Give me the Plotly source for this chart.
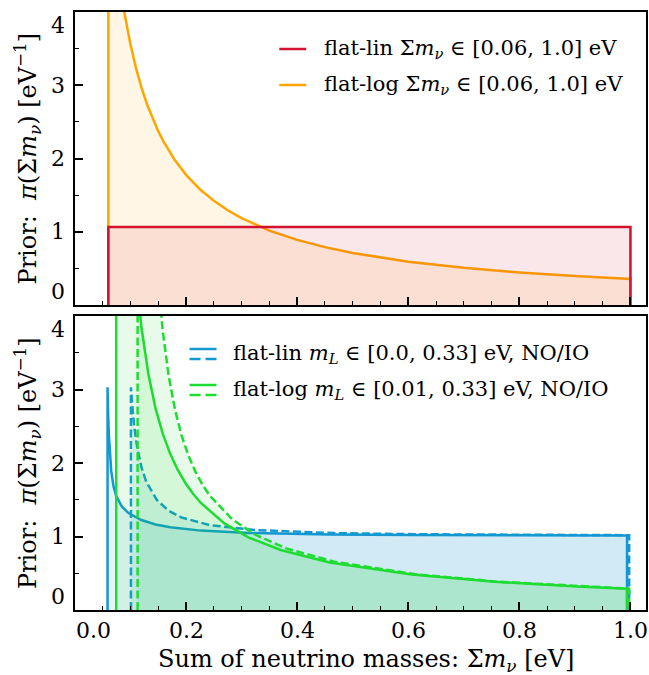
import plotly.graph_objects as go

# ---------------- data ----------------
# Top panel: priors on the sum of neutrino masses
LIN_SUM_X = [0.06, 0.06, 1.0, 1.0]
LIN_SUM_Y = [0.0, 1.064, 1.064, 0.0]

LOG_SUM_X = [0.06, 0.06, 0.07, 0.08, 0.085, 0.09, 0.095, 0.10, 0.11, 0.12, 0.13, 0.14,
             0.15, 0.16, 0.18, 0.20, 0.225, 0.25, 0.275, 0.30, 0.35, 0.40, 0.45, 0.50,
             0.60, 0.70, 0.80, 0.90, 1.00, 1.00]
LOG_SUM_Y = [0.0, 5.924, 5.078, 4.443, 4.182, 3.949, 3.742, 3.554, 3.231, 2.962, 2.734, 2.539,
             2.370, 2.222, 1.975, 1.777, 1.580, 1.422, 1.293, 1.185, 1.016, 0.889, 0.790, 0.711,
             0.592, 0.508, 0.444, 0.395, 0.355, 0.0]

# Bottom panel: priors on the lightest mass, mapped to the sum (NO solid, IO dashed)
LIN_NO_X = [0.0586, 0.0586, 0.0591, 0.0597, 0.0609, 0.0622, 0.0652, 0.0695, 0.0742, 0.0845,
            0.0956, 0.1195, 0.1449, 0.1714, 0.2266, 0.3122, 0.4584, 0.6063, 0.7551, 0.9939, 0.9939]
LIN_NO_Y = [0.0, 3.030, 2.837, 2.669, 2.393, 2.181, 1.892, 1.678, 1.551, 1.406,
            1.323, 1.224, 1.164, 1.125, 1.080, 1.048, 1.028, 1.021, 1.017, 1.014, 0.0]

LIN_IO_X = [0.1007, 0.1007, 0.1018, 0.1028, 0.1039, 0.1062, 0.1094, 0.1127, 0.1201, 0.1284,
            0.1473, 0.1686, 0.1919, 0.2425, 0.3239, 0.4665, 0.6125, 0.7600, 0.9977, 0.9977]
LIN_IO_Y = [0.0, 3.030, 2.915, 2.807, 2.708, 2.530, 2.341, 2.181, 1.929, 1.743,
            1.498, 1.351, 1.258, 1.155, 1.088, 1.046, 1.031, 1.024, 1.018, 0.0]

LOG_NO_X = [0.0742, 0.0742, 0.0845, 0.0956, 0.1073, 0.1195, 0.1321, 0.1449, 0.1581, 0.1714,
            0.1850, 0.1987, 0.2126, 0.2266, 0.2691, 0.3122, 0.3703, 0.4584, 0.6063, 0.7551,
            0.9043, 0.9939, 0.9939]
LOG_NO_Y = [0.0, 14.64, 8.848, 6.245, 4.781, 3.850, 3.211, 2.747, 2.397, 2.124,
            1.906, 1.728, 1.581, 1.456, 1.178, 0.989, 0.816, 0.647, 0.482, 0.384,
            0.319, 0.290, 0.0]

LOG_IO_X = [0.1127, 0.1127, 0.1201, 0.1284, 0.1375, 0.1473, 0.1577, 0.1686, 0.1801, 0.1919,
            0.2042, 0.2167, 0.2295, 0.2425, 0.2826, 0.3239, 0.3803, 0.4665, 0.6125, 0.7600,
            0.9084, 0.9977, 0.9977]
LOG_IO_Y = [0.0, 20.58, 12.14, 8.227, 6.056, 4.711, 3.816, 3.187, 2.725, 2.374,
            2.101, 1.883, 1.705, 1.557, 1.237, 1.027, 0.838, 0.658, 0.487, 0.386,
            0.321, 0.291, 0.0]

XTICK_VALS = [0.0, 0.2, 0.4, 0.6, 0.8, 1.0]
XTICK_LABELS = ["0.0", "0.2", "0.4", "0.6", "0.8", "1.0"]
YTICK_VALS = [0, 1, 2, 3, 4]
YTICK_LABELS = ["0", "1", "2", "3", "4"]

TOP_LEGEND = ["flat-lin Σ<i>m</i><sub><i>ν</i></sub> ∈ [0.06, 1.0] eV",
              "flat-log Σ<i>m</i><sub><i>ν</i></sub> ∈ [0.06, 1.0] eV"]
BOT_LEGEND = ["flat-lin <i>m</i><sub><i>L</i></sub> ∈ [0.0, 0.33] eV, NO/IO",
              "flat-log <i>m</i><sub><i>L</i></sub> ∈ [0.01, 0.33] eV, NO/IO"]
Y_TITLE = "Prior:  <i>π</i>(Σ<i>m</i><sub><i>ν</i></sub>) [eV<sup>−1</sup>]"
X_TITLE = "Sum of neutrino masses: Σ<i>m</i><sub><i>ν</i></sub> [eV]"

# ---------------- style ----------------
RED = "#D2122E"
ORANGE = "#FFA500"
BLUE = "#1398D2"
GREEN = "#1FDC32"
FONT = "DejaVu Serif, Liberation Serif, serif"
W, H = 649, 675
ML, MR, MT, MB = 75, 1, 12, 65


def rgba(hexc, a):
    h = hexc.lstrip("#")
    return "rgba(%d,%d,%d,%.3f)" % (int(h[0:2], 16), int(h[2:4], 16), int(h[4:6], 16), a)


def fx(px):
    return (px - ML) / (W - ML - MR)


def fy(py):
    return (H - MB - py) / (H - MT - MB)


fig = go.Figure()


def add_curve(x, y, color, xa, ya, dash="solid", alpha=0.1):
    fig.add_trace(go.Scatter(
        x=x, y=y, mode="lines", xaxis=xa, yaxis=ya,
        line=dict(color=color, width=2.5, dash=dash),
        fill="tozeroy", fillcolor=rgba(color, alpha),
        showlegend=False, hoverinfo="skip"))


# top panel
add_curve(LOG_SUM_X, LOG_SUM_Y, ORANGE, "x", "y")
add_curve(LIN_SUM_X, LIN_SUM_Y, RED, "x", "y")
# bottom panel
DASH = "8px,3.5px"
add_curve(LIN_NO_X, LIN_NO_Y, BLUE, "x2", "y2")
add_curve(LIN_IO_X, LIN_IO_Y, BLUE, "x2", "y2", dash=DASH)
add_curve(LOG_NO_X, LOG_NO_Y, GREEN, "x2", "y2")
add_curve(LOG_IO_X, LOG_IO_Y, GREEN, "x2", "y2", dash=DASH)

top_dom = [fy(305), 1.0]
bot_dom = [0.0, fy(316)]

axis_common = dict(showgrid=False, zeroline=False, showline=True, linecolor="black",
                   linewidth=1.8, mirror=True, ticks="inside", ticklen=8, tickwidth=1.5,
                   tickcolor="black", showticklabels=False)
minor_x = dict(ticks="inside", ticklen=4.5, tickwidth=1.3, tickcolor="black", dtick=0.05, tick0=0)
minor_y = dict(ticks="inside", ticklen=4.5, tickwidth=1.3, tickcolor="black", dtick=0.5, tick0=0)
xr = [0, 1.028]
fig.update_layout(
    width=W, height=H,
    margin=dict(l=ML, r=MR, t=MT, b=MB),
    paper_bgcolor="white", plot_bgcolor="white",
    font=dict(family=FONT, color="black", size=22),
    xaxis=dict(axis_common, range=xr, anchor="y", domain=[0, 1],
               tickmode="array", tickvals=XTICK_VALS, minor=minor_x),
    xaxis2=dict(axis_common, range=xr, anchor="y2", domain=[0, 1], matches="x",
                tickmode="array", tickvals=XTICK_VALS, minor=minor_x),
    yaxis=dict(axis_common, range=[0, 4], anchor="x", domain=top_dom,
               tickmode="array", tickvals=YTICK_VALS, minor=minor_y),
    yaxis2=dict(axis_common, range=[0, 4], anchor="x2", domain=bot_dom,
                tickmode="array", tickvals=YTICK_VALS, minor=minor_y),
)

ann = []
# x tick labels (bottom panel only)
for i, (v, lab) in enumerate(zip(XTICK_VALS, XTICK_LABELS)):
    ann.append(dict(x=v, xref="x2", y=0, yref="y2 domain", text=lab, showarrow=False,
                    xanchor="left" if i == 0 else "center", yanchor="top", yshift=-7,
                    borderpad=0, font=dict(size=22)))
# y tick labels (both panels)
for xref, yref in (("x domain", "y"), ("x2 domain", "y2")):
    for i, (v, lab) in enumerate(zip(YTICK_VALS, YTICK_LABELS)):
        if i == 0:
            ya = "bottom"
        elif i == len(YTICK_VALS) - 1:
            ya = "top"
        else:
            ya = "middle"
        ann.append(dict(x=0, xref=xref, y=v, yref=yref, text=lab, showarrow=False,
                        xanchor="right", yanchor=ya, xshift=-9, borderpad=0,
                        font=dict(size=22)))
# axis titles
for xref, yref in (("x domain", "y domain"), ("x2 domain", "y2 domain")):
    ann.append(dict(x=0, xref=xref, y=0.5, yref=yref, text=Y_TITLE, showarrow=False,
                    textangle=-90, xanchor="center", yanchor="middle", xshift=-48,
                    font=dict(size=24)))
ann.append(dict(x=0.5, xref="x2 domain", y=0, yref="y2 domain", text=X_TITLE,
                showarrow=False, xanchor="center", yanchor="middle", yshift=-50, xshift=5,
                font=dict(size=24)))

# manual legends
shapes = []
for (txt, col, py) in ((TOP_LEGEND[0], RED, 49), (TOP_LEGEND[1], ORANGE, 85)):
    shapes.append(dict(type="line", xref="paper", yref="paper", x0=fx(280), x1=fx(307),
                       y0=fy(py), y1=fy(py), line=dict(color=col, width=2.5)))
    ann.append(dict(x=fx(323), xref="paper", y=fy(py), yref="paper", text=txt,
                    showarrow=False, xanchor="left", yanchor="middle", font=dict(size=21)))
for (txt, col, py) in ((BOT_LEGEND[0], BLUE, 354), (BOT_LEGEND[1], GREEN, 390)):
    shapes.append(dict(type="line", xref="paper", yref="paper", x0=fx(190), x1=fx(217),
                       y0=fy(py - 5), y1=fy(py - 5), line=dict(color=col, width=2.5)))
    for (a, b) in ((190, 201), (206, 217)):
        shapes.append(dict(type="line", xref="paper", yref="paper", x0=fx(a), x1=fx(b),
                           y0=fy(py + 5), y1=fy(py + 5), line=dict(color=col, width=2.5)))
    ann.append(dict(x=fx(232), xref="paper", y=fy(py), yref="paper", text=txt,
                    showarrow=False, xanchor="left", yanchor="middle", font=dict(size=21)))

fig.update_layout(annotations=ann, shapes=shapes)
fig.write_html("out.html", config={"displayModeBar": False},
               post_script="document.body.style.margin='0px';")
